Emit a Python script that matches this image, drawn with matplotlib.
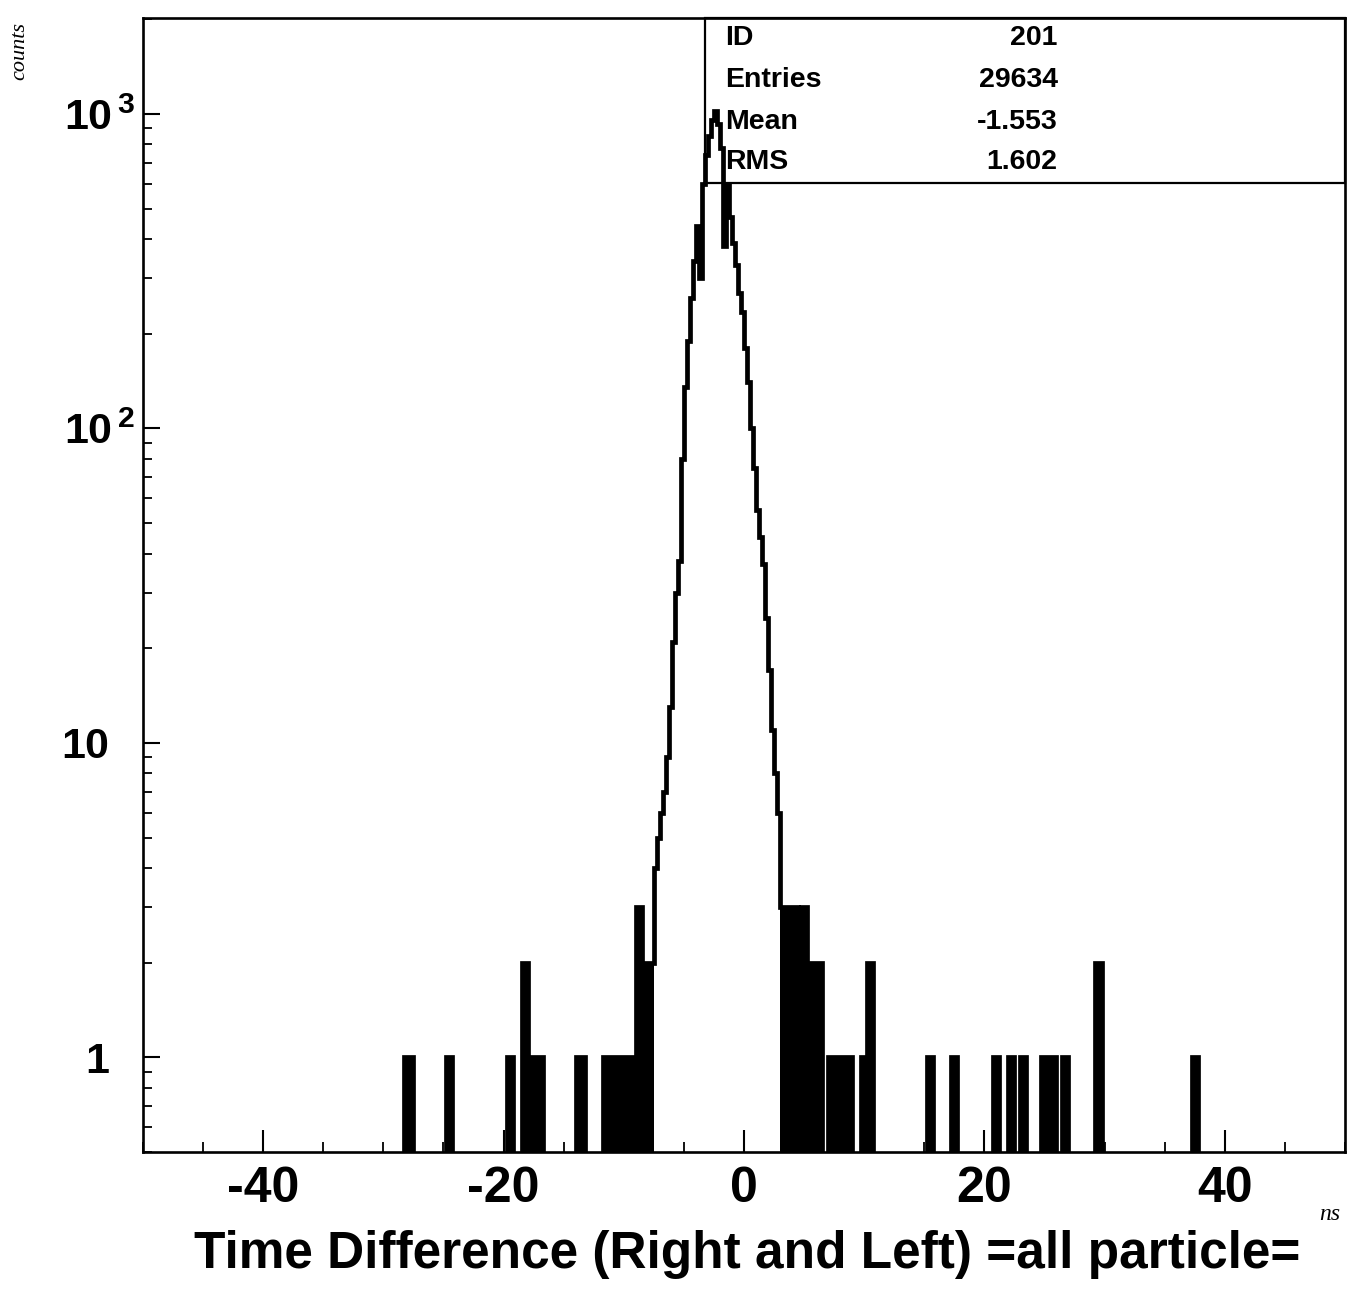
import numpy as np
import matplotlib
matplotlib.use("Agg")
import matplotlib.pyplot as plt
from matplotlib.ticker import MultipleLocator, FixedLocator, LogLocator, NullFormatter
from matplotlib.patches import Rectangle

plt.rcParams['font.family'] = ['Liberation Sans', 'DejaVu Sans']
plt.rcParams['mathtext.default'] = 'regular'

# ---------------- data ----------------
x_min, x_max = -50.0, 50.0
bin_width = 0.25

# dense core of the peak: counts of consecutive bins starting at core_start
core_start = -7.5
core_counts = [4, 5, 6, 7, 9, 13, 21, 30, 38, 80, 135, 190, 260, 340, 440,
               300, 600, 740, 850, 960, 1020, 930, 780, 380, 600, 470, 390,
               330, 270, 235, 180, 140, 100, 75, 55, 45, 37, 25, 17, 11, 8, 6]

# sparse tail bins: left bin edge and count
tail_edges = [-28.25, -28.0, -27.75,
              -24.75, -24.5,
              -19.75, -19.5,
              -18.5, -18.25,
              -18.0, -17.75, -17.5, -17.25, -17.0,
              -14.0, -13.75, -13.5,
              -11.75, -11.5, -11.25, -11.0, -10.75, -10.5, -10.25, -10.0,
              -9.75, -9.5, -9.25,
              -9.0, -8.75,
              -8.5, -8.25, -8.0, -7.75,
              3.0, 3.25, 3.5, 3.75, 4.0, 4.25,
              4.5, 4.75, 5.0,
              5.25, 5.5, 5.75, 6.0, 6.25,
              7.0, 7.25, 7.5, 7.75, 8.0, 8.25, 8.5, 8.75,
              9.75, 10.0, 10.25, 10.5,
              15.25, 15.5,
              17.25, 17.5,
              20.75, 21.0,
              22.0, 22.25,
              23.0, 23.25,
              24.75, 25.0, 25.25, 25.5, 25.75,
              26.5, 26.75,
              29.25, 29.5,
              37.25, 37.5]
tail_counts = [1, 1, 1,
               1, 1,
               1, 1,
               2, 2,
               1, 1, 1, 1, 1,
               1, 1, 1,
               1, 1, 1, 1, 1, 1, 1, 1,
               1, 1, 1,
               3, 3,
               2, 2, 2, 2,
               3, 3, 3, 3, 3, 3,
               2, 3, 3,
               2, 2, 2, 2, 2,
               1, 1, 1, 1, 1, 1, 1, 1,
               1, 1, 2, 2,
               1, 1,
               1, 1,
               1, 1,
               1, 1,
               1, 1,
               1, 1, 1, 1, 1,
               1, 1,
               2, 2,
               1, 1]

stats_labels = ["ID", "Entries", "Mean", "RMS"]
stats_values = ["201", "29634", "-1.553", "1.602"]

x_ticks = [-40, -20, 0, 20, 40]
x_ticklabels = ["-40", "-20", "0", "20", "40"]
y_ticks = [1, 10, 100, 1000]
y_ticklabels = ["$1$   ", "$10$   ", "$10^{\\,2}$", "$10^{\\,3}$"]

# ---------------- build histogram ----------------
edges = np.arange(x_min, x_max + bin_width / 2, bin_width)
counts = np.zeros(len(edges) - 1)
i0 = int(round((core_start - x_min) / bin_width))
counts[i0:i0 + len(core_counts)] = core_counts
for e, c in zip(tail_edges, tail_counts):
    counts[int(round((e - x_min) / bin_width))] = c

# ---------------- figure ----------------
fig = plt.figure(figsize=(13.6, 12.9), dpi=100)
ax = fig.add_axes([0.1051, 0.1070, 0.8838, 0.8791])
ax.set_yscale('log', nonpositive='clip')

low = np.where(counts <= 3, counts, 0)
ax.stairs(low, edges, fill=True, color='black', baseline=0, zorder=2)
ax.stairs(counts, edges, color='black', lw=3.4, baseline=0,
          joinstyle='miter', zorder=3)

ax.set_xlim(x_min, x_max)
ax.set_ylim(0.5, 2020)

for s in ax.spines.values():
    s.set_linewidth(1.9)

ax.xaxis.set_major_locator(FixedLocator(x_ticks))
ax.set_xticklabels(x_ticklabels, fontsize=36, fontweight='bold')
ax.xaxis.set_minor_locator(MultipleLocator(5))
ax.tick_params(axis='x', which='major', direction='in', length=16, width=1.5,
               pad=10, top=False)
ax.tick_params(axis='x', which='minor', direction='in', length=7.5, width=1.3,
               top=False)

ax.yaxis.set_major_locator(FixedLocator(y_ticks))
ax.set_yticklabels(y_ticklabels, fontsize=31, fontweight='bold')
ax.yaxis.set_minor_locator(LogLocator(base=10, subs=np.arange(2, 10), numticks=20))
ax.yaxis.set_minor_formatter(NullFormatter())
ax.tick_params(axis='y', which='major', direction='in', length=12.5, width=1.5,
               pad=6, right=False)
ax.tick_params(axis='y', which='minor', direction='in', length=6.5, width=1.3,
               right=False)

ax.set_xlabel("Time Difference (Right and Left) =all particle=",
              fontsize=37, fontweight='bold')
ax.xaxis.set_label_coords(0.503, -0.069)

fig.text(1330 / 1360, 1 - 1214 / 1290, "ns", fontsize=17, style='italic',
         family='Liberation Serif', ha='center', va='center')
fig.text(20 / 1360, 1 - 51 / 1290, "counts", fontsize=16, style='italic',
         family='Liberation Serif', rotation=90, ha='center', va='center')

# statistics box
box_x0, box_y0 = 0.4676, 0.8545
ax.add_patch(Rectangle((box_x0, box_y0), 1 - box_x0, 1 - box_y0,
                       transform=ax.transAxes, fill=False, lw=1.6,
                       edgecolor='black', zorder=4, clip_on=False))
row_y = [0.9824, 0.9453, 0.9083, 0.8730]
for lab, val, yy in zip(stats_labels, stats_values, row_y):
    ax.text(0.484, yy, lab, transform=ax.transAxes, fontsize=20.5,
            fontweight='bold', ha='left', va='center', zorder=5)
    ax.text(0.761, yy, val, transform=ax.transAxes, fontsize=20.5,
            fontweight='bold', ha='right', va='center', zorder=5)

fig.savefig("out.png", dpi=100)
